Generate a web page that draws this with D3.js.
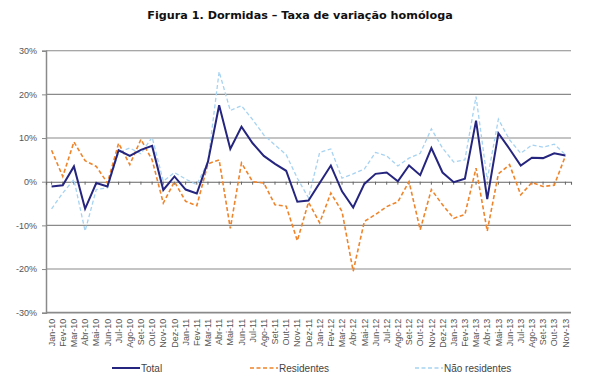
<!DOCTYPE html>
<html>
<head>
<meta charset="utf-8">
<script src="https://cdn.jsdelivr.net/npm/d3@7"></script>
<style>
  body { margin: 0; background: #fff; }
  svg { display: block; font-family: "Liberation Sans", Arial, sans-serif; }
</style>
</head>
<body>
<svg id="chart" width="610" height="389"></svg>
<script>
// months Jan-10 .. Nov-13
let months = ['Jan-10','Fev-10','Mar-10','Abr-10','Mai-10','Jun-10','Jul-10','Ago-10','Set-10','Out-10','Nov-10','Dez-10',
  'Jan-11','Fev-11','Mar-11','Abr-11','Mai-11','Jun-11','Jul-11','Ago-11','Set-11','Out-11','Nov-11','Dez-11',
  'Jan-12','Fev-12','Mar-12','Abr-12','Mai-12','Jun-12','Jul-12','Ago-12','Set-12','Out-12','Nov-12','Dez-12',
  'Jan-13','Fev-13','Mar-13','Abr-13','Mai-13','Jun-13','Jul-13','Ago-13','Set-13','Out-13','Nov-13'];

let total = [-1.1,-0.8,3.5,-6.2,-0.3,-1.1,7.2,5.9,7.3,8.2,-1.9,1.2,
  -1.8,-2.7,4.6,17.5,7.5,12.6,8.8,5.9,4.1,2.5,-4.6,-4.3,
  -0.3,3.7,-2.2,-5.9,-0.5,1.8,2.1,0.1,3.7,1.5,7.7,2.1,
  -0.1,0.7,14.0,-4.0,11.1,7.5,3.7,5.5,5.4,6.5,6.0];

let residentes = [7.2,1.2,9.1,4.8,3.5,-0.3,8.8,3.9,9.7,5.0,-4.9,0.0,
  -4.5,-5.5,4.1,5.0,-10.7,4.3,0.0,-0.3,-5.3,-5.6,-13.5,-4.7,
  -9.4,-2.6,-6.8,-20.5,-9.1,-7.5,-5.7,-4.6,0.0,-11.0,-1.8,-5.3,
  -8.4,-7.5,3.1,-11.3,1.8,3.9,-3.0,-0.2,-1.1,-0.8,5.9];

let naoResidentes = [-6.2,-2.6,0.5,-11.3,-1.8,-1.4,6.7,7.7,6.4,10.2,0.1,2.1,
  0.6,-0.7,4.6,25.2,16.3,17.4,14.2,10.7,8.4,6.2,0.8,-3.7,
  6.7,7.5,0.8,1.8,2.9,6.7,5.9,3.6,5.4,6.5,12.1,7.7,
  4.5,5.0,19.5,0.5,14.3,9.6,6.5,8.4,7.9,8.6,6.2];

let yTicks = [30, 20, 10, 0, -10, -20, -30];

let series = [
  { name: 'Total', values: total, color: '#25257f', width: 2, dash: null },
  { name: 'Residentes', values: residentes, color: '#f0842a', width: 1.6, dash: '4,2.5' },
  { name: 'Não residentes', values: naoResidentes, color: '#a6d3f2', width: 1.3, dash: '4,2.5' }
];

let svg = d3.select('#chart');
let plotLeft = 46, plotRight = 571, plotTop = 50.7, plotBottom = 312.7;

let x = d3.scaleBand().domain(months).range([plotLeft, plotRight]);
let y = d3.scaleLinear().domain([-30, 30]).range([plotBottom, plotTop]);

// title
svg.append('text')
  .attr('x', 300).attr('y', 19)
  .attr('text-anchor', 'middle')
  .style('font-family', '"DejaVu Sans", Verdana, sans-serif')
  .style('font-weight', 'bold')
  .style('font-size', '11.2px')
  .attr('fill', '#111')
  .text('Figura 1. Dormidas – Taxa de variação homóloga');

// gridlines
svg.append('g')
  .selectAll('line')
  .data(yTicks.filter(d => d !== 0))
  .join('line')
  .attr('x1', plotLeft).attr('x2', plotRight)
  .attr('y1', d => y(d)).attr('y2', d => y(d))
  .attr('stroke', '#8a8a8a')
  .attr('stroke-width', d => d === -30 ? 1.8 : 1.1);

// y axis
let yAxis = svg.append('g')
  .attr('transform', `translate(${plotLeft},0)`)
  .call(d3.axisLeft(y).tickValues(yTicks).tickSize(4).tickPadding(5).tickFormat(d => d + '%'));
yAxis.select('.domain').attr('stroke', '#8a8a8a').attr('stroke-width', 1.5);
yAxis.selectAll('.tick line').attr('stroke', '#8a8a8a');
yAxis.selectAll('.tick text')
  .attr('fill', '#555')
  .style('font-size', '9px');

// zero axis with category ticks
let zeroAxis = svg.append('g')
  .attr('transform', `translate(0,${y(0)})`)
  .call(d3.axisBottom(x).tickSize(3).tickFormat(''));
zeroAxis.select('.domain').attr('stroke', '#666').attr('stroke-width', 1.1);
zeroAxis.selectAll('.tick line').attr('stroke', '#666');

// x labels along the bottom
let xAxis = svg.append('g')
  .attr('transform', `translate(0,${plotBottom})`)
  .call(d3.axisBottom(x).tickSize(0).tickPadding(0));
xAxis.select('.domain').remove();
xAxis.selectAll('.tick text')
  .attr('transform', 'rotate(-90)')
  .attr('text-anchor', 'end')
  .attr('x', -6).attr('y', 0).attr('dy', '0.35em')
  .attr('fill', '#555')
  .style('font-size', '9px');

// lines
let line = d3.line()
  .x((d, i) => x(months[i]) + x.bandwidth() / 2)
  .y(d => y(d));

svg.append('g')
  .selectAll('path')
  .data(series.slice().reverse())
  .join('path')
  .attr('d', d => line(d.values))
  .attr('fill', 'none')
  .attr('stroke', d => d.color)
  .attr('stroke-width', d => d.width)
  .attr('stroke-dasharray', d => d.dash)
  .attr('stroke-linejoin', 'miter');

// legend
let legendX = [112, 250, 415];
let legend = svg.append('g')
  .selectAll('g')
  .data(series)
  .join('g')
  .attr('transform', (d, i) => `translate(${legendX[i]},368)`);
legend.append('line')
  .attr('x1', 0).attr('x2', 28)
  .attr('stroke', d => d.color)
  .attr('stroke-width', d => d.width)
  .attr('stroke-dasharray', d => d.dash);
legend.append('text')
  .attr('x', 29).attr('dy', '0.35em')
  .attr('fill', '#444')
  .style('font-size', '10px')
  .text(d => d.name);
</script>
</body>
</html>
